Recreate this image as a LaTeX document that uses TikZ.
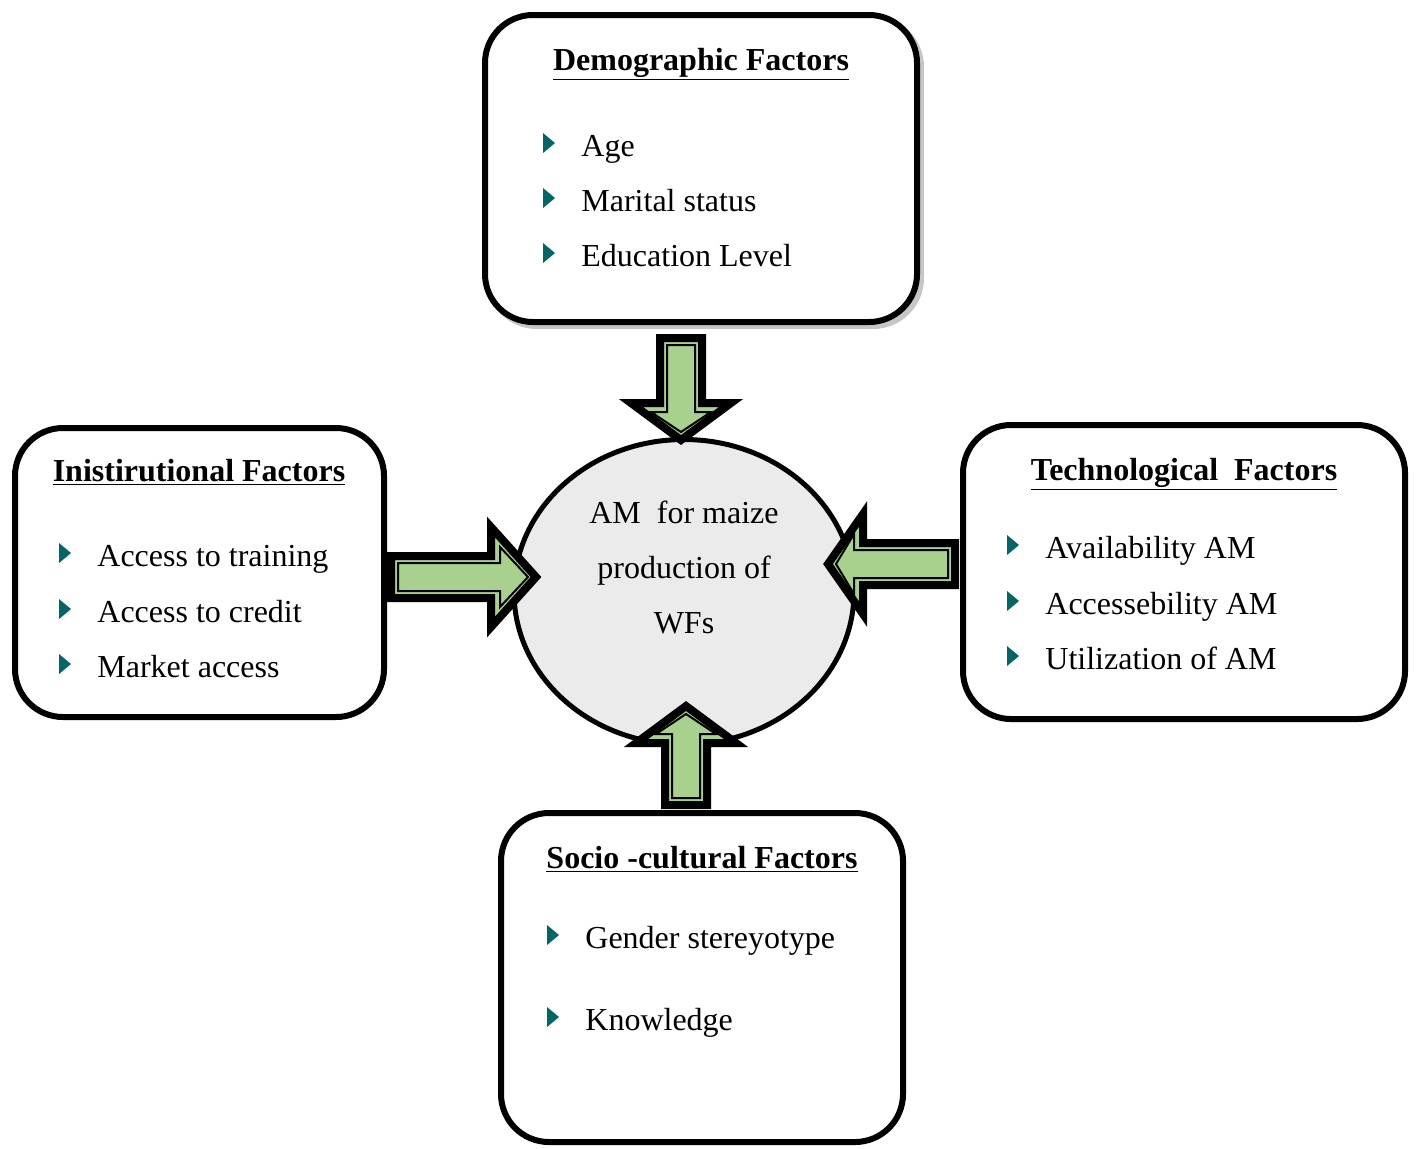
\documentclass[tikz,border=0pt]{standalone}
\usepackage{fontspec}
\setmainfont{Liberation Serif}
\usetikzlibrary{positioning}
\usetikzlibrary{calc}
\usetikzlibrary{shapes.geometric}
\usepackage{xcolor}

\definecolor{arrowgreen}{RGB}{169,209,142}
\definecolor{bulletteal}{RGB}{0,102,102}
\definecolor{coregray}{RGB}{235,235,235}

\tikzset{
  factorbox/.style={draw=black, line width=3pt, rounded corners=24pt, fill=white, inner sep=0pt},
  boxshadow/.style={draw=gray!45, line width=3pt, rounded corners=24pt, inner sep=0pt},
  heading/.style={anchor=base, inner sep=0pt, font=\fontsize{16}{19}\selectfont\bfseries},
  item/.style={anchor=base west, inner sep=0pt, font=\fontsize{16}{19}\selectfont},
  arrowout/.style={draw=black, line width=4pt, fill=arrowgreen, line join=miter},
  arrowin/.style={draw=black, line width=1pt, fill=arrowgreen, line join=miter}
}

% bullet in front of an item node
\newcommand{\bul}[1]{\fill[bulletteal] ($(#1.base west)+(-38,-3)$) --++(12,-10) --++(-12,-10) -- cycle;}

% block arrow: tail point, angle, length, head length
\newcommand{\blockarrow}[4]{
\begin{scope}[shift={#1}, rotate=#2]
\draw[arrowout] (0,-21) -- ({#3-#4},-21) -- ({#3-#4},-50) -- (#3,0) -- ({#3-#4},50) -- ({#3-#4},21) -- (0,21) -- cycle;
\draw[arrowin] (7,-14) -- ({#3-#4+9},-14) -- ({#3-#4+9},-30) -- ({#3-8},0) -- ({#3-#4+9},30) -- ({#3-#4+9},14) -- (7,14) -- cycle;
\end{scope}
}

\begin{document}
\begin{tikzpicture}[x=0.5pt, y=-0.5pt]

\useasboundingbox (0,0) rectangle (1422,1148);

% boxes
{
\node[boxshadow, minimum width=216pt, minimum height=153.5pt] (demoshadow) at (705,172.5) {};
\node[factorbox, minimum width=216pt, minimum height=153.5pt] (demo) at (701,168.5) {};
\node[factorbox, minimum width=184.5pt, minimum height=144.5pt] (inst) at (199.5,572.5) {};
\node[factorbox, minimum width=221pt, minimum height=147pt] (tech) at (1184,572) {};
\node[factorbox, minimum width=201pt, minimum height=164.5pt] (socio) at (702,977.5) {};
}

% centre
\node[ellipse, draw=black, line width=2.5pt, fill=coregray, minimum width=170pt, minimum height=152.5pt, inner sep=0pt] (core) at (684,592) {};
\node[align=center, inner sep=0pt, font=\fontsize{16}{27.5}\selectfont] (coretext) at (684,567)
{AM\ \ for maize\\production of\\WFs};

% arrows
{
\blockarrow{($(demo.south)+(-20,13)$)}{-90}{102}{37}
\blockarrow{($(inst.east)+(4,4.5)$)}{0}{145}{45}
\blockarrow{($(tech.west)+(-5,-8)$)}{180}{127}{35}
\blockarrow{($(socio.north)+(-16,-5)$)}{90}{99}{37}
}

% labellings
{
\node[heading] (demohead) at (701,70) {\underline{Demographic Factors}};
\node[item] (d1) at (581,156) {Age};
\node[item] (d2) at (581,211) {Marital status};
\node[item] (d3) at (581,266) {Education Level};

\node[heading] (insthead) at (199,481) {\underline{Inistirutional Factors}};
\node[item] (i1) at (97,566) {Access to training};
\node[item] (i2) at (97,622) {Access to credit};
\node[item] (i3) at (97,677) {Market access};

\node[heading] (techhead) at (1184,480) {\underline{Technological\ \ Factors}};
\node[item] (t1) at (1045,558) {Availability AM};
\node[item] (t2) at (1045,614) {Accessebility AM};
\node[item] (t3) at (1045,669) {Utilization of AM};

\node[heading] (sociohead) at (702,868) {\underline{Socio -cultural Factors}};
\node[item] (s1) at (585,948) {Gender stereyotype};
\node[item] (s2) at (585,1030) {Knowledge};
}

% bullets
{
\bul{d1} \bul{d2} \bul{d3}
\bul{i1} \bul{i2} \bul{i3}
\bul{t1} \bul{t2} \bul{t3}
\bul{s1} \bul{s2}
}

\end{tikzpicture}
\end{document}
